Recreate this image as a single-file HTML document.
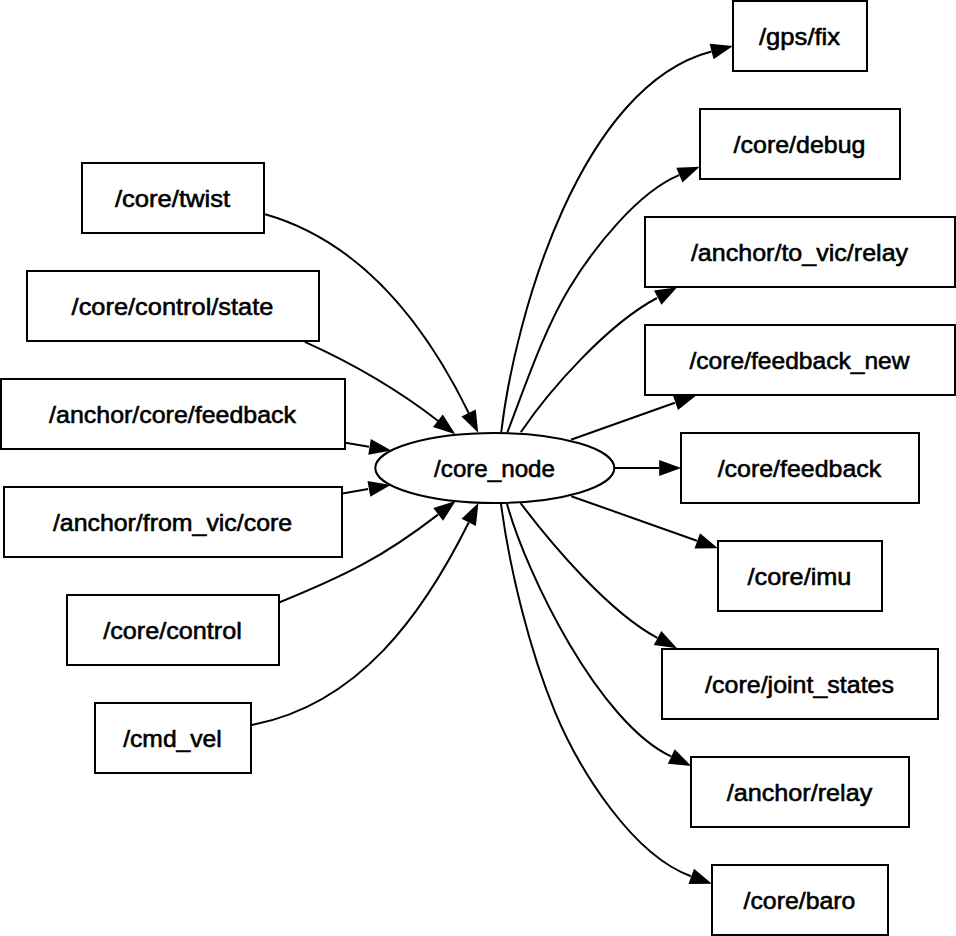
<!DOCTYPE html><html><head><meta charset="utf-8"><style>html,body{margin:0;padding:0;background:#fff;width:956px;height:936px;overflow:hidden}svg{display:block}text{font-family:"Liberation Sans",sans-serif;font-size:24.5px;fill:#000;stroke:#000;stroke-width:0.6px}</style></head><body>
<svg width="956" height="936" viewBox="0 0 956 936">
<rect x="0" y="0" width="956" height="936" fill="#fff"/>
<path d="M265.1,214.2C362.3,241.9 426.3,326.3 468.8,413.2" fill="none" stroke="#000" stroke-width="2"/>
<path d="M478.2,432.7L461.4,416.4L475.8,409.4Z" fill="#000"/>
<path d="M304.8,341.9C352.8,363.5 397.0,389.0 438.5,421.2" fill="none" stroke="#000" stroke-width="2"/>
<path d="M455.3,434.2L433.0,427.1L442.8,414.4Z" fill="#000"/>
<path d="M345.5,442.7L368.9,446.8" fill="none" stroke="#000" stroke-width="2"/>
<path d="M391.3,450.4L368.3,454.8L370.8,439.0Z" fill="#000"/>
<path d="M342.5,493.4L368.1,489.1" fill="none" stroke="#000" stroke-width="2"/>
<path d="M390.6,485.1L370.3,496.8L367.5,481.1Z" fill="#000"/>
<path d="M279.7,602.3C345.5,575.5 383.5,556.8 438.0,514.6" fill="none" stroke="#000" stroke-width="2"/>
<path d="M455.6,501.0L443.1,520.8L433.3,508.1Z" fill="#000"/>
<path d="M251.9,724.9C358.9,704.6 423.3,613.8 468.7,522.5" fill="none" stroke="#000" stroke-width="2"/>
<path d="M478.5,502.7L475.9,526.0L461.6,518.8Z" fill="#000"/>
<path d="M501.2,432.3C515.1,314.6 580.8,85.4 711.5,51.5" fill="none" stroke="#000" stroke-width="2"/>
<path d="M732.9,45.9L713.6,59.2L709.6,43.7Z" fill="#000"/>
<path d="M507.4,432.3C525.2,385.8 544.6,328.5 569.4,287.9C594.1,247.3 638.3,192.0 679.1,175.2" fill="none" stroke="#000" stroke-width="2"/>
<path d="M699.7,166.7L682.4,182.5L676.3,167.7Z" fill="#000"/>
<path d="M520.8,432.3C550.5,388.1 608.9,323.4 657.0,298.0" fill="none" stroke="#000" stroke-width="2"/>
<path d="M677.2,287.3L661.5,304.7L654.0,290.5Z" fill="#000"/>
<path d="M570.9,439.8L674.9,402.7" fill="none" stroke="#000" stroke-width="2"/>
<path d="M696.2,395.4L678.0,410.1L672.8,394.9Z" fill="#000"/>
<path d="M614.3,468.0L659.0,468.0" fill="none" stroke="#000" stroke-width="2"/>
<path d="M681.2,468.0L659.2,476.0L659.2,460.0Z" fill="#000"/>
<path d="M571.2,496.2L696.9,540.7" fill="none" stroke="#000" stroke-width="2"/>
<path d="M717.9,548.3L694.5,548.4L700.0,533.3Z" fill="#000"/>
<path d="M520.6,503.2C552.8,545.8 609.6,612.4 657.3,637.8" fill="none" stroke="#000" stroke-width="2"/>
<path d="M677.0,648.3L653.8,645.0L661.3,630.9Z" fill="#000"/>
<path d="M506.8,503.2C526.7,575.3 599.3,722.6 671.0,756.4" fill="none" stroke="#000" stroke-width="2"/>
<path d="M691.2,765.9L667.9,763.8L674.7,749.3Z" fill="#000"/>
<path d="M500.9,503.2C509.6,570.2 530.2,652.2 555.0,711.8C579.9,771.5 633.0,855.2 690.9,876.2" fill="none" stroke="#000" stroke-width="2"/>
<path d="M711.9,883.8L688.5,883.9L694.0,868.8Z" fill="#000"/>
<rect x="733" y="1" width="134" height="70" fill="none" stroke="#000" stroke-width="2"/>
<text x="759.0" y="44.7" textLength="81.1" lengthAdjust="spacingAndGlyphs">/gps/fix</text>
<rect x="700" y="109" width="200" height="70" fill="none" stroke="#000" stroke-width="2"/>
<text x="733.6" y="152.7" textLength="131.8" lengthAdjust="spacingAndGlyphs">/core/debug</text>
<rect x="645" y="217" width="310" height="70" fill="none" stroke="#000" stroke-width="2"/>
<text x="690.9" y="260.7" textLength="217.2" lengthAdjust="spacingAndGlyphs">/anchor/to_vic/relay</text>
<rect x="645" y="325" width="310" height="70" fill="none" stroke="#000" stroke-width="2"/>
<text x="689.5" y="368.7" textLength="220.0" lengthAdjust="spacingAndGlyphs">/core/feedback_new</text>
<rect x="681" y="433" width="238" height="70" fill="none" stroke="#000" stroke-width="2"/>
<text x="717.7" y="476.7" textLength="163.5" lengthAdjust="spacingAndGlyphs">/core/feedback</text>
<rect x="718" y="541" width="164" height="70" fill="none" stroke="#000" stroke-width="2"/>
<text x="747.5" y="584.7" textLength="103.9" lengthAdjust="spacingAndGlyphs">/core/imu</text>
<rect x="662" y="649" width="276" height="70" fill="none" stroke="#000" stroke-width="2"/>
<text x="705.1" y="692.7" textLength="188.9" lengthAdjust="spacingAndGlyphs">/core/joint_states</text>
<rect x="691" y="757" width="218" height="70" fill="none" stroke="#000" stroke-width="2"/>
<text x="726.8" y="800.7" textLength="145.5" lengthAdjust="spacingAndGlyphs">/anchor/relay</text>
<rect x="712" y="865" width="176" height="70" fill="none" stroke="#000" stroke-width="2"/>
<text x="743.5" y="908.7" textLength="111.9" lengthAdjust="spacingAndGlyphs">/core/baro</text>
<rect x="82" y="163" width="182" height="70" fill="none" stroke="#000" stroke-width="2"/>
<text x="114.9" y="206.7" textLength="115.3" lengthAdjust="spacingAndGlyphs">/core/twist</text>
<rect x="27" y="271" width="292" height="70" fill="none" stroke="#000" stroke-width="2"/>
<text x="71.6" y="314.7" textLength="201.8" lengthAdjust="spacingAndGlyphs">/core/control/state</text>
<rect x="1" y="379" width="344" height="70" fill="none" stroke="#000" stroke-width="2"/>
<text x="49.1" y="422.7" textLength="246.9" lengthAdjust="spacingAndGlyphs">/anchor/core/feedback</text>
<rect x="4" y="487" width="338" height="70" fill="none" stroke="#000" stroke-width="2"/>
<text x="52.9" y="530.7" textLength="239.2" lengthAdjust="spacingAndGlyphs">/anchor/from_vic/core</text>
<rect x="67" y="595" width="212" height="70" fill="none" stroke="#000" stroke-width="2"/>
<text x="103.2" y="638.7" textLength="138.7" lengthAdjust="spacingAndGlyphs">/core/control</text>
<rect x="95" y="703" width="156" height="70" fill="none" stroke="#000" stroke-width="2"/>
<text x="123.2" y="746.7" textLength="98.6" lengthAdjust="spacingAndGlyphs">/cmd_vel</text>
<ellipse cx="494.8" cy="468" rx="119.5" ry="35" fill="none" stroke="#000" stroke-width="2"/>
<text x="434.1" y="476.7" textLength="120.9" lengthAdjust="spacingAndGlyphs">/core_node</text>
</svg></body></html>
